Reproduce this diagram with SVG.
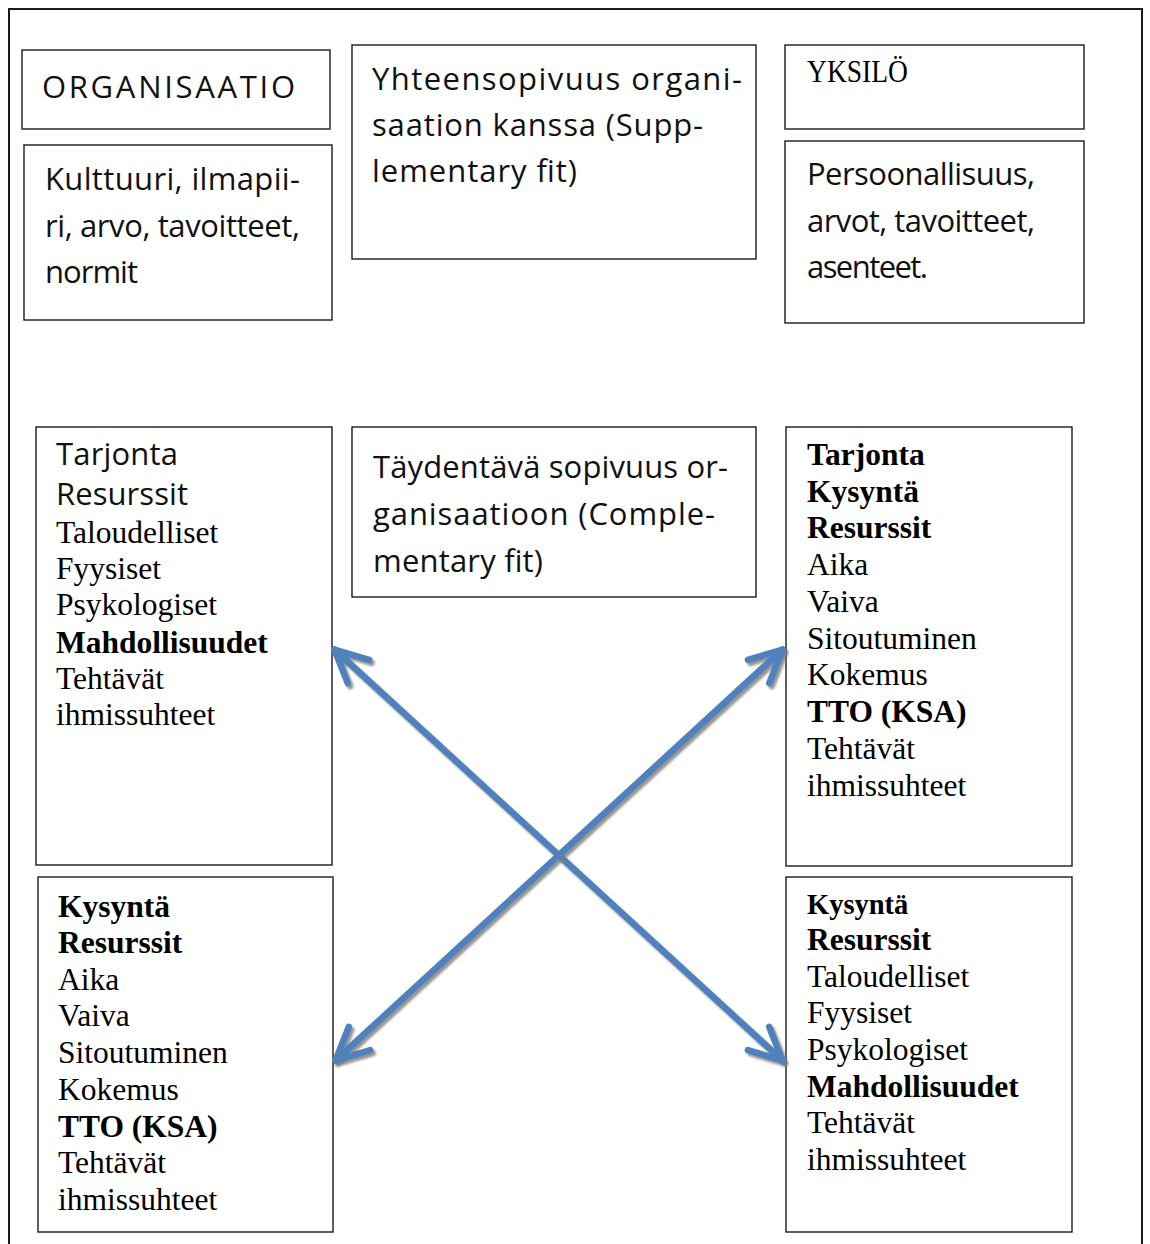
<svg xmlns="http://www.w3.org/2000/svg" width="1150" height="1244" viewBox="0 0 1150 1244">
  <style>
    .box { fill: #ffffff; stroke: #1a1a1a; stroke-width: 1.4; }
    .frame { fill: none; stroke: #1a1a1a; stroke-width: 2; }
    .sans { font-family: "Open Sans", "DejaVu Sans", sans-serif; font-size: 31px; fill: #111; }
    .serif { font-family: "Liberation Serif", "Times New Roman", serif; font-size: 31.5px; fill: #000; }
    .b { font-weight: bold; }
    .arrow { fill: none; stroke: #4f81bd; stroke-width: 6.5; stroke-linecap: round; stroke-linejoin: round; }
    .shadow { fill: none; stroke: #7a7a7a; stroke-opacity: 0.8; stroke-width: 6.5; stroke-linecap: round; stroke-linejoin: round; }
  </style>
  <defs>
    <marker id="head" markerUnits="userSpaceOnUse" orient="auto-start-reverse" refX="0" refY="0" markerWidth="80" markerHeight="80" viewBox="-40 -40 80 80" overflow="visible">
      <path d="M -32.5,-15.8 L 0,0 L -32.5,15.8" fill="none" stroke="#4f81bd" stroke-width="6.5" stroke-linecap="round" stroke-linejoin="round"/>
    </marker>
    <marker id="head-shadow" markerUnits="userSpaceOnUse" orient="auto-start-reverse" refX="0" refY="0" markerWidth="80" markerHeight="80" viewBox="-40 -40 80 80" overflow="visible">
      <path d="M -32.5,-15.8 L 0,0 L -32.5,15.8" fill="none" stroke="#7a7a7a" stroke-opacity="0.8" stroke-width="6.5" stroke-linecap="round" stroke-linejoin="round"/>
    </marker>
    <filter id="soft" x="-10%" y="-10%" width="120%" height="120%">
      <feGaussianBlur stdDeviation="0.8"/>
    </filter>
  </defs>

  <rect width="1150" height="1244" fill="#ffffff"/>

  <!-- outer frame, open at the bottom -->
  <path class="frame" d="M 9,1244 V 9 H 1142 V 1244"/>

  <g id="organisaatio">
    <rect class="box" x="22" y="50" width="308" height="79"/>
    <text class="sans" x="42" y="98" font-size="34" textLength="253" lengthAdjust="spacing">ORGANISAATIO</text>
  </g>

  <g id="organisaatio-piirteet">
    <rect class="box" x="24" y="145" width="308" height="175"/>
    <text class="sans">
      <tspan x="45" y="190" textLength="255" lengthAdjust="spacing">Kulttuuri, ilmapii-</tspan>
      <tspan x="45" y="237" textLength="255" lengthAdjust="spacing">ri, arvo, tavoitteet,</tspan>
      <tspan x="45" y="283" textLength="93" lengthAdjust="spacing">normit</tspan>
    </text>
  </g>

  <g id="supplementary-fit">
    <rect class="box" x="352" y="45" width="404" height="214"/>
    <text class="sans">
      <tspan x="372" y="90" textLength="370" lengthAdjust="spacing">Yhteensopivuus organi-</tspan>
      <tspan x="372" y="136" textLength="331" lengthAdjust="spacing">saation kanssa (Supp-</tspan>
      <tspan x="372" y="182" textLength="205" lengthAdjust="spacing">lementary fit)</tspan>
    </text>
  </g>

  <g id="yksilo">
    <rect class="box" x="785" y="45" width="299" height="84"/>
    <text class="serif" x="807" y="82" font-size="25" textLength="101" lengthAdjust="spacingAndGlyphs">YKSILÖ</text>
  </g>

  <g id="yksilo-piirteet">
    <rect class="box" x="785" y="141" width="299" height="182"/>
    <text class="sans">
      <tspan x="807" y="185" textLength="228" lengthAdjust="spacing">Persoonallisuus,</tspan>
      <tspan x="807" y="232" textLength="228" lengthAdjust="spacing">arvot, tavoitteet,</tspan>
      <tspan x="807" y="278" textLength="121" lengthAdjust="spacing">asenteet.</tspan>
    </text>
  </g>

  <g id="organisaatio-tarjonta">
    <rect class="box" x="36" y="427" width="296" height="438"/>
    <text class="sans">
      <tspan x="56" y="465" textLength="122" lengthAdjust="spacing">Tarjonta</tspan>
      <tspan x="56" y="505" textLength="132" lengthAdjust="spacing">Resurssit</tspan>
    </text>
    <text class="serif">
      <tspan x="56" y="543">Taloudelliset</tspan>
      <tspan x="56" y="579">Fyysiset</tspan>
      <tspan x="56" y="615">Psykologiset</tspan>
      <tspan x="56" y="653" class="b">Mahdollisuudet</tspan>
      <tspan x="56" y="689">Tehtävät</tspan>
      <tspan x="56" y="725">ihmissuhteet</tspan>
    </text>
  </g>

  <g id="complementary-fit">
    <rect class="box" x="352" y="427" width="404" height="170"/>
    <text class="sans">
      <tspan x="373" y="478" textLength="355" lengthAdjust="spacing">Täydentävä sopivuus or-</tspan>
      <tspan x="373" y="525" textLength="342" lengthAdjust="spacing">ganisaatioon (Comple-</tspan>
      <tspan x="373" y="572" textLength="170" lengthAdjust="spacing">mentary fit)</tspan>
    </text>
  </g>

  <g id="yksilo-tarjonta">
    <rect class="box" x="786" y="427" width="286" height="439"/>
    <text class="serif">
      <tspan x="807" y="465" class="b">Tarjonta</tspan>
      <tspan x="807" y="502" class="b">Kysyntä</tspan>
      <tspan x="807" y="538" class="b">Resurssit</tspan>
      <tspan x="807" y="575">Aika</tspan>
      <tspan x="807" y="612">Vaiva</tspan>
      <tspan x="807" y="649">Sitoutuminen</tspan>
      <tspan x="807" y="685">Kokemus</tspan>
      <tspan x="807" y="722" class="b">TTO (KSA)</tspan>
      <tspan x="807" y="759">Tehtävät</tspan>
      <tspan x="807" y="796">ihmissuhteet</tspan>
    </text>
  </g>

  <g id="organisaatio-kysynta">
    <rect class="box" x="38" y="877" width="295" height="355"/>
    <text class="serif">
      <tspan x="58" y="917" class="b">Kysyntä</tspan>
      <tspan x="58" y="953" class="b">Resurssit</tspan>
      <tspan x="58" y="990">Aika</tspan>
      <tspan x="58" y="1026">Vaiva</tspan>
      <tspan x="58" y="1063">Sitoutuminen</tspan>
      <tspan x="58" y="1100">Kokemus</tspan>
      <tspan x="58" y="1137" class="b">TTO (KSA)</tspan>
      <tspan x="58" y="1173">Tehtävät</tspan>
      <tspan x="58" y="1210">ihmissuhteet</tspan>
    </text>
  </g>

  <g id="yksilo-kysynta">
    <rect class="box" x="786" y="877" width="286" height="355"/>
    <text class="serif">
      <tspan x="807" y="914" class="b" font-size="28.5">Kysyntä</tspan>
      <tspan x="807" y="950" class="b">Resurssit</tspan>
      <tspan x="807" y="987">Taloudelliset</tspan>
      <tspan x="807" y="1023">Fyysiset</tspan>
      <tspan x="807" y="1060">Psykologiset</tspan>
      <tspan x="807" y="1097" class="b">Mahdollisuudet</tspan>
      <tspan x="807" y="1133">Tehtävät</tspan>
      <tspan x="807" y="1170">ihmissuhteet</tspan>
    </text>
  </g>

  <!-- two crossing double-headed arrows with a soft drop shadow -->
  <g id="connectors">
    <g transform="translate(2.5,3)" filter="url(#soft)">
      <path class="shadow" d="M 334.5,649.5 L 782.5,1060.5" marker-start="url(#head-shadow)" marker-end="url(#head-shadow)"/>
    </g>
    <path class="arrow" d="M 334.5,649.5 L 782.5,1060.5" marker-start="url(#head)" marker-end="url(#head)"/>
    <g transform="translate(2.5,3)" filter="url(#soft)">
      <path class="shadow" d="M 782.5,649.5 L 335.5,1060.5" marker-start="url(#head-shadow)" marker-end="url(#head-shadow)"/>
    </g>
    <path class="arrow" d="M 782.5,649.5 L 335.5,1060.5" marker-start="url(#head)" marker-end="url(#head)"/>
  </g>
</svg>
